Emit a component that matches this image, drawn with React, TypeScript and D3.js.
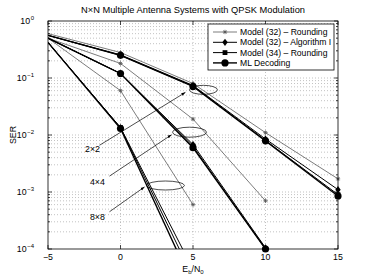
import React from 'react';
import * as d3 from 'd3';

const W = 374;
const H = 280;
const margin = { top: 21, right: 36, bottom: 31, left: 48 };

// Eb/N0 points (dB)
const snr = [-5, 0, 5, 10, 15];

// 2x2
const r32_2 = [0.6, 0.28, 0.08, 0.011, 0.0017];
const a32_2 = [0.56, 0.255, 0.074, 0.0085, 0.0011];
const r34_2 = [0.56, 0.25, 0.072, 0.008, 0.0009];
const ml_2 = [0.56, 0.25, 0.071, 0.0079, 0.00085];
// 4x4
const r32_4 = [0.5, 0.18, 0.019, 0.0007];
const a32_4 = [0.5, 0.12, 0.0068, 0.000105];
const r34_4 = [0.5, 0.12, 0.0063, 0.0001];
const ml_4 = [0.5, 0.12, 0.006, 0.0001];
// 8x8
const r32_8 = [0.5, 0.06, 0.0006];
const a32_8 = [0.42, 0.0135, 0.000032];
const r34_8 = [0.42, 0.0135, 0.000044];
const ml_8 = [0.42, 0.013, 0.000023];

const legendNames = [
  'Model (32) – Rounding',
  'Model (32) – Algorithm I',
  'Model (34) – Rounding',
  'ML Decoding',
];

const xTicks = [-5, 0, 5, 10, 15];
const yExps = [0, -1, -2, -3, -4];

// annotations in data coordinates: label, label pos, arrow start, arrow end, ellipse centre
const groups = [
  { label: '2×2', lx: -1.93, ly: 0.0055, ax: -1.45, ay: 0.0066, bx: 4.48, by: 0.056, ex: 5.72, ey: 0.062, rx: 14, ry: 4.5 },
  { label: '4×4', lx: -1.59, ly: 0.00144, ax: -0.76, ay: 0.0019, bx: 3.52, by: 0.0101, ex: 4.76, ey: 0.0112, rx: 17, ry: 5 },
  { label: '8×8', lx: -1.59, ly: 0.00035, ax: -0.76, ay: 0.00045, bx: 1.66, by: 0.00123, ex: 3.1, ey: 0.0013, rx: 19, ry: 4.5 },
];

const series = [
  { kind: 0, ys: r32_2 }, { kind: 0, ys: r32_4 }, { kind: 0, ys: r32_8 },
  { kind: 1, ys: a32_2 }, { kind: 1, ys: a32_4 }, { kind: 1, ys: a32_8 },
  { kind: 2, ys: r34_2 }, { kind: 2, ys: r34_4 }, { kind: 2, ys: r34_8 },
  { kind: 3, ys: ml_2 }, { kind: 3, ys: ml_4 }, { kind: 3, ys: ml_8 },
];

const lineColor = ['#5a5a5a', '#000', '#000', '#000'];
const lineWidth = [0.8, 1, 1, 1.4];

const Marker: React.FC<{ kind: number; x: number; y: number }> = ({ kind, x, y }) => {
  if (kind === 0) {
    const s = 2.2;
    return (
      <g stroke="#555" strokeWidth={0.8}>
        <line x1={x - s} y1={y} x2={x + s} y2={y} />
        <line x1={x} y1={y - s} x2={x} y2={y + s} />
        <line x1={x - s * 0.7} y1={y - s * 0.7} x2={x + s * 0.7} y2={y + s * 0.7} />
        <line x1={x - s * 0.7} y1={y + s * 0.7} x2={x + s * 0.7} y2={y - s * 0.7} />
      </g>
    );
  }
  if (kind === 1) {
    const s = 3.6;
    return <path d={`M${x},${y - s}L${x + s * 0.75},${y}L${x},${y + s}L${x - s * 0.75},${y}Z`} fill="#000" />;
  }
  if (kind === 2) {
    const s = 2.4;
    return <rect x={x - s} y={y - s} width={2 * s} height={2 * s} fill="#000" />;
  }
  return <circle cx={x} cy={y} r={3.6} fill="#000" />;
};

export default function App() {
  const x = d3.scaleLinear().domain([-5, 15]).range([margin.left, W - margin.right]);
  const y = d3.scaleLog().domain([1e-4, 1]).range([H - margin.bottom, margin.top]);
  const x0 = x.range()[0], x1 = x.range()[1];
  const y0 = y.range()[0], y1 = y.range()[1];

  const line = d3
    .line<number>()
    .x((_, i) => x(snr[i]))
    .y(d => y(d));

  const minor: number[] = [];
  for (let e = -4; e < 0; e++) for (let m = 2; m <= 9; m++) minor.push(m * Math.pow(10, e));

  const font = 'Liberation Sans, Arial, Helvetica, sans-serif';

  return (
    <svg width={W} height={H} style={{ position: 'absolute', left: 0, top: 0, background: '#fff' }} fontFamily={font}>
      <defs>
        <clipPath id="plot">
          <rect x={x0} y={y1} width={x1 - x0} height={y0 - y1} />
        </clipPath>
        <marker id="arrow" viewBox="0 0 10 10" refX="10" refY="5" markerWidth="6" markerHeight="6" orient="auto">
          <path d="M0,1.5L10,5L0,8.5Z" fill="#000" />
        </marker>
      </defs>
      <rect x={0} y={0} width={W} height={H} fill="#fff" />

      {/* grid */}
      <g stroke="#999" strokeWidth={0.6} strokeDasharray="1,2">
        {xTicks.slice(1, -1).map(t => (
          <line key={'gx' + t} x1={x(t)} x2={x(t)} y1={y1} y2={y0} />
        ))}
        {minor.concat(yExps.slice(1, -1).map(e => Math.pow(10, e))).map((v, i) => (
          <line key={'gy' + i} x1={x0} x2={x1} y1={y(v)} y2={y(v)} />
        ))}
      </g>

      {/* curves */}
      <g clipPath="url(#plot)">
        {series.map((s, i) => (
          <path key={i} d={line(s.ys) || ''} fill="none" stroke={lineColor[s.kind]} strokeWidth={lineWidth[s.kind]} />
        ))}
      </g>
      {series.map((s, i) =>
        s.ys.map((v, j) =>
          snr[j] > -5 && v >= 1e-4 ? <Marker key={i + '-' + j} kind={s.kind} x={x(snr[j])} y={y(v)} /> : null,
        ),
      )}

      {/* annotations */}
      {groups.map(g => (
        <g key={g.label}>
          <ellipse cx={x(g.ex)} cy={y(g.ey)} rx={g.rx} ry={g.ry} fill="none" stroke="#000" strokeWidth={0.7} />
          <line x1={x(g.ax)} y1={y(g.ay)} x2={x(g.bx)} y2={y(g.by)} stroke="#000" strokeWidth={0.7} markerEnd="url(#arrow)" />
          <text x={x(g.lx)} y={y(g.ly)} fontSize={8.8} textAnchor="middle" dominantBaseline="middle">
            {g.label}
          </text>
        </g>
      ))}

      {/* frame and ticks */}
      <rect x={x0} y={y1} width={x1 - x0} height={y0 - y1} fill="none" stroke="#000" strokeWidth={0.8} />
      <g stroke="#000" strokeWidth={0.7}>
        {xTicks.map(t => (
          <g key={'tx' + t}>
            <line x1={x(t)} x2={x(t)} y1={y0} y2={y0 - 4} />
            <line x1={x(t)} x2={x(t)} y1={y1} y2={y1 + 4} />
          </g>
        ))}
        {yExps.map(e => (
          <g key={'ty' + e}>
            <line x1={x0} x2={x0 + 4} y1={y(Math.pow(10, e))} y2={y(Math.pow(10, e))} />
            <line x1={x1} x2={x1 - 4} y1={y(Math.pow(10, e))} y2={y(Math.pow(10, e))} />
          </g>
        ))}
        {minor.map((v, i) => (
          <g key={'tm' + i}>
            <line x1={x0} x2={x0 + 2} y1={y(v)} y2={y(v)} />
            <line x1={x1} x2={x1 - 2} y1={y(v)} y2={y(v)} />
          </g>
        ))}
      </g>

      {/* tick labels */}
      {xTicks.map(t => (
        <text key={'lx' + t} x={x(t)} y={y0 + 11} fontSize={8.8} textAnchor="middle">
          {t < 0 ? '−' + Math.abs(t) : t}
        </text>
      ))}
      {yExps.map(e => (
        <text key={'ly' + e} x={x0 - 14} y={y(Math.pow(10, e)) + 3} fontSize={8.8} textAnchor="end">
          10
          <tspan dy={-4} dx={0.5} fontSize={6}>
            {e === 0 ? '0' : '−' + Math.abs(e)}
          </tspan>
        </text>
      ))}

      {/* titles */}
      <text x={(x0 + x1) / 2} y={13} fontSize={9.3} textAnchor="middle">
        N×N Multiple Antenna Systems with QPSK Modulation
      </text>
      <text transform={`translate(16,${(y0 + y1) / 2}) rotate(-90)`} fontSize={8.8} textAnchor="middle">
        SER
      </text>
      <text x={(x0 + x1) / 2} y={H - 8} fontSize={8.8} textAnchor="middle">
        E<tspan fontSize={6} dy={2}>b</tspan>
        <tspan dy={-2}>/N</tspan>
        <tspan fontSize={6} dy={2}>0</tspan>
      </text>

      {/* legend */}
      <g>
        <rect x={208} y={24} width={126} height={46} fill="#fff" stroke="#000" strokeWidth={0.8} />
        {legendNames.map((n, k) => {
          const ly = 32 + k * 10.3;
          return (
            <g key={n}>
              <line x1={213} x2={237} y1={ly} y2={ly} stroke={lineColor[k]} strokeWidth={lineWidth[k]} />
              <Marker kind={k} x={225} y={ly} />
              <text x={240} y={ly + 3} fontSize={8.6}>
                {n}
              </text>
            </g>
          );
        })}
      </g>
    </svg>
  );
}
